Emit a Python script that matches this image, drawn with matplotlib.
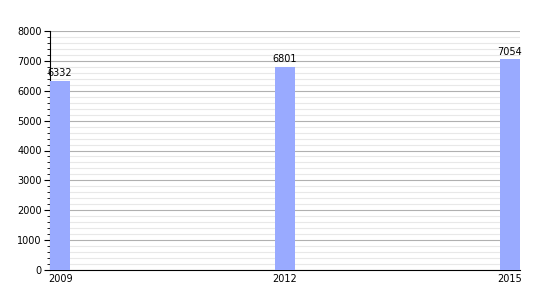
import matplotlib
matplotlib.use("Agg")
import matplotlib.pyplot as plt
from matplotlib.ticker import MultipleLocator

years = [2009, 2012, 2015]
values = [6332, 6801, 7054]
labels = ["2009", "2012", "2015"]

fig = plt.figure(figsize=(5.5, 3), dpi=100)
ax = fig.add_axes([50/550, 30/300, 470/550, 239/300])
width = 0.27
ax.bar([y + width/2 for y in years], values, width=width, color="#99aaff", zorder=3)
for y, v in zip(years, values):
    ax.text(y + width/2, v + 80, str(v), ha="center", va="bottom", fontsize=7, color="#000000", zorder=4)
ax.set_xlim(2009, 2015 + width)
ax.set_ylim(0, 8000)
ax.yaxis.set_major_locator(MultipleLocator(1000))
ax.yaxis.set_minor_locator(MultipleLocator(200))
ax.set_xticks([y + width/2 for y in years])
ax.set_xticklabels(labels)
ax.grid(axis="y", which="major", color="#b0b0b0", linewidth=0.8, zorder=0)
ax.grid(axis="y", which="minor", color="#e8e8e8", linewidth=0.8, zorder=0)
for s in ["top", "right"]:
    ax.spines[s].set_visible(False)
ax.spines["left"].set_linewidth(0.8)
ax.spines["bottom"].set_linewidth(0.8)
ax.tick_params(axis="y", which="major", length=4, labelsize=7, pad=2)
ax.tick_params(axis="y", which="minor", length=2)
ax.tick_params(axis="x", length=0, labelsize=7, pad=3)
fig.savefig("out.png", dpi=100)
